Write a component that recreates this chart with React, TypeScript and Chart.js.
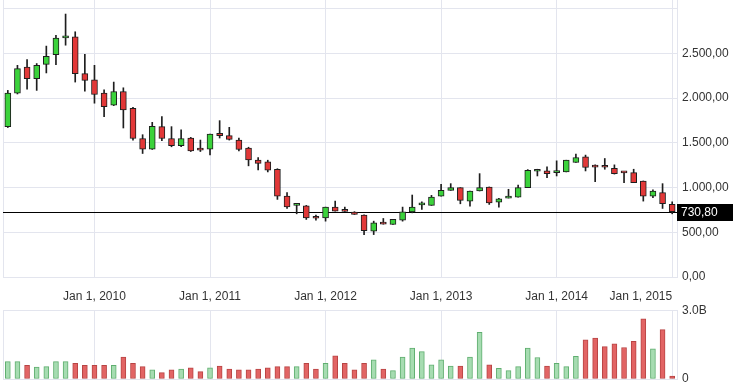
import React, { useEffect, useRef } from 'react';
import { Chart, registerables } from 'chart.js';

Chart.register(...registerables);

// Monthly candles, Apr 2009 .. Jan 2015
const months = [
  '2009-04','2009-05','2009-06','2009-07','2009-08','2009-09','2009-10','2009-11','2009-12',
  '2010-01','2010-02','2010-03','2010-04','2010-05','2010-06','2010-07','2010-08','2010-09','2010-10','2010-11','2010-12',
  '2011-01','2011-02','2011-03','2011-04','2011-05','2011-06','2011-07','2011-08','2011-09','2011-10','2011-11','2011-12',
  '2012-01','2012-02','2012-03','2012-04','2012-05','2012-06','2012-07','2012-08','2012-09','2012-10','2012-11','2012-12',
  '2013-01','2013-02','2013-03','2013-04','2013-05','2013-06','2013-07','2013-08','2013-09','2013-10','2013-11','2013-12',
  '2014-01','2014-02','2014-03','2014-04','2014-05','2014-06','2014-07','2014-08','2014-09','2014-10','2014-11','2014-12',
  '2015-01',
];

const opens = [
  1680, 2054, 2346, 2216, 2376, 2485, 2672, 2683, 2272,
  2204, 2054, 1919, 2073, 1885, 1548, 1429, 1680, 1548, 1466, 1553, 1425,
  1429, 1605, 1579, 1530, 1440, 1305, 1287, 1204, 904, 800, 796, 661,
  661, 781, 738, 725, 691, 511, 593, 587, 635, 728, 805, 800,
  904, 968, 998, 848, 961, 1006, 837, 882, 893, 998, 1182, 1185,
  1166, 1174, 1279, 1343, 1230, 1230, 1215, 1166, 1166, 1073, 904, 942,
  811,
];
const highs = [
  2085, 2365, 2430, 2385, 2580, 2700, 2938, 2740, 2489,
  2365, 2092, 2178, 2114, 1897, 1590, 1728, 1792, 1680, 1643, 1560, 1530,
  1598, 1747, 1672, 1553, 1450, 1335, 1305, 1210, 942, 818, 800, 691,
  781, 848, 781, 730, 695, 624, 654, 643, 781, 916, 840, 912,
  1036, 1043, 998, 961, 1155, 1006, 878, 980, 1028, 1200, 1204, 1230,
  1298, 1305, 1373, 1362, 1253, 1324, 1253, 1175, 1204, 1073, 975, 1043,
  840,
];
const lows = [
  1670, 2045, 2100, 2085, 2280, 2373, 2590, 2178, 2077,
  1942, 1792, 1915, 1665, 1530, 1380, 1425, 1522, 1455, 1455, 1402, 1402,
  1365, 1553, 1530, 1410, 1242, 1197, 1174, 867, 766, 706, 643, 635,
  624, 736, 733, 699, 474, 474, 590, 587, 624, 717, 755, 800,
  904, 968, 818, 792, 961, 811, 781, 882, 893, 998, 1129, 1110,
  1129, 1174, 1279, 1185, 1065, 1204, 1150, 1054, 1054, 848, 885, 766,
  706,
];
const closes = [
  2054, 2328, 2216, 2365, 2466, 2669, 2683, 2272, 2197,
  2039, 1904, 2073, 1867, 1548, 1429, 1683, 1548, 1466, 1548, 1410, 1418,
  1598, 1579, 1537, 1425, 1309, 1268, 1193, 904, 784, 803, 661, 656,
  781, 736, 733, 699, 519, 604, 590, 643, 728, 781, 811, 893,
  968, 998, 856, 961, 998, 829, 874, 885, 998, 1193, 1185, 1155,
  1170, 1305, 1335, 1223, 1228, 1226, 1155, 1164, 1054, 904, 961, 818,
  730.8,
];
// volume in billions
const volumes = [
  0.76, 0.76, 0.60, 0.52, 0.54, 0.76, 0.76, 0.69, 0.60,
  0.60, 0.60, 0.60, 0.96, 0.69, 0.54, 0.40, 0.28, 0.40, 0.43, 0.49, 0.32,
  0.49, 0.57, 0.43, 0.40, 0.40, 0.43, 0.49, 0.54, 0.54, 0.54, 0.69, 0.43,
  0.69, 1.01, 0.69, 0.40, 0.69, 0.84, 0.43, 0.37, 0.96, 1.35, 1.20, 0.62,
  0.84, 0.57, 0.57, 0.96, 2.04, 0.62, 0.47, 0.37, 0.54, 1.35, 0.94, 0.57,
  0.69, 0.54, 0.99, 1.72, 1.79, 1.42, 1.54, 1.38, 1.65, 2.63, 1.32, 2.16,
  0.13,
];

const xTickMonths = ['2010-01', '2011-01', '2012-01', '2013-01', '2014-01', '2015-01'];
const xTickLabels = ['Jan 1, 2010', 'Jan 1, 2011', 'Jan 1, 2012', 'Jan 1, 2013', 'Jan 1, 2014', 'Jan 1, 2015'];

const priceTicks = [0, 500, 1000, 1500, 2000, 2500, 3000];
const priceTickLabels = ['0,00', '500,00', '1.000,00', '1.500,00', '2.000,00', '2.500,00', ''];
const priceMax = 3095;

const volumeTicks = [0, 3e9];
const volumeTickLabels = ['0', '3.0B'];

const lastPrice = 730.8;
const lastPriceLabel = '730,80';

const FONT_FAMILY = "'Liberation Sans', Arial, sans-serif";
const GRID = '#e3e5ee';
const TEXT = '#333';

const isJan = (i: number) => xTickMonths.includes(months[i]);
const janGridColor = (c: any) => (isJan(c.index) ? GRID : 'rgba(0,0,0,0)');

const leftBorderPlugin = {
  id: 'leftBorder',
  beforeDatasetsDraw(chart: any) {
    const { ctx, chartArea } = chart;
    ctx.save();
    ctx.strokeStyle = GRID;
    ctx.lineWidth = 1;
    const x = Math.round(chartArea.left) + 0.5;
    ctx.beginPath();
    ctx.moveTo(x, chartArea.top);
    ctx.lineTo(x, chartArea.bottom);
    ctx.stroke();
    ctx.restore();
  },
};

const lastPricePlugin = {
  id: 'lastPrice',
  beforeDatasetsDraw(chart: any) {
    const { ctx, chartArea, scales } = chart;
    const y = Math.round(scales.y.getPixelForValue(lastPrice)) + 0.5;
    ctx.save();
    ctx.strokeStyle = '#000';
    ctx.lineWidth = 1;
    ctx.beginPath();
    ctx.moveTo(chartArea.left, y);
    ctx.lineTo(chartArea.right, y);
    ctx.stroke();
    ctx.restore();
  },
  afterDraw(chart: any) {
    const { ctx, chartArea, scales } = chart;
    const y = Math.round(scales.y.getPixelForValue(lastPrice));
    ctx.save();
    ctx.fillStyle = '#000';
    ctx.fillRect(chartArea.right, y - 8, 56, 17);
    ctx.fillStyle = '#fff';
    ctx.font = `12px ${FONT_FAMILY}`;
    ctx.textAlign = 'left';
    ctx.textBaseline = 'middle';
    ctx.fillText(lastPriceLabel, chartArea.right + 4, y + 1);
    ctx.restore();
  },
};

const fitRightAxis = (s: any) => {
  s.width = 58;
  s.paddingTop = 0;
  s.paddingBottom = 0;
};

export default function App() {
  const priceRef = useRef<HTMLCanvasElement>(null);
  const volRef = useRef<HTMLCanvasElement>(null);

  useEffect(() => {
    const up = closes.map((c, i) => c >= opens[i]);
    const bodies = opens.map((o, i) => [Math.min(o, closes[i]), Math.max(o, closes[i])]);
    const wicks = lows.map((l, i) => [l, highs[i]]);

    const priceChart = new Chart(priceRef.current!, {
      type: 'bar',
      data: {
        labels: months,
        datasets: [
          {
            data: bodies as any,
            backgroundColor: up.map((u) => (u ? '#3bd23b' : '#e23838')),
            borderColor: '#1e1e1e',
            borderWidth: 1,
            borderSkipped: false,
            barThickness: 6,
            minBarLength: 2,
            grouped: false,
          } as any,
          {
            data: wicks as any,
            backgroundColor: '#1e1e1e',
            borderWidth: 0,
            barThickness: 1,
            grouped: false,
          } as any,
        ],
      },
      options: {
        animation: false,
        responsive: false,
        events: [],
        layout: { padding: { left: 3, top: 0, right: 0, bottom: 13 } },
        plugins: { legend: { display: false }, tooltip: { enabled: false } },
        scales: {
          x: {
            type: 'category',
            offset: true,
            grid: { offset: false, drawTicks: false, color: janGridColor },
            ticks: { display: false, autoSkip: false },
            border: { display: false },
            afterFit: (s: any) => {
              s.height = 0;
              s.paddingLeft = 0;
              s.paddingRight = 0;
            },
          },
          y: {
            position: 'right',
            min: 0,
            max: priceMax,
            afterBuildTicks: (s: any) => {
              s.ticks = priceTicks.map((v) => ({ value: v }));
            },
            ticks: {
              padding: 5,
              color: TEXT,
              font: { family: FONT_FAMILY, size: 12 },
              callback: (_v: any, i: number) => priceTickLabels[i],
            },
            grid: { drawTicks: false, color: GRID },
            border: { display: true, color: GRID },
            afterFit: fitRightAxis,
          },
        },
      } as any,
      plugins: [leftBorderPlugin, lastPricePlugin],
    });

    const volChart = new Chart(volRef.current!, {
      type: 'bar',
      data: {
        labels: months,
        datasets: [
          {
            data: volumes.map((v) => v * 1e9),
            backgroundColor: up.map((u) => (u ? '#a6dcb1' : '#e26464')),
            borderColor: up.map((u) => (u ? '#5fae6f' : '#b84444')),
            borderWidth: 1,
            borderSkipped: false,
            barThickness: 5,
          } as any,
        ],
      },
      options: {
        animation: false,
        responsive: false,
        events: [],
        layout: { padding: { left: 3, top: 0, right: 0, bottom: 13 } },
        plugins: { legend: { display: false }, tooltip: { enabled: false } },
        scales: {
          x: {
            type: 'category',
            position: 'top',
            offset: true,
            grid: { offset: false, drawTicks: false, color: janGridColor },
            ticks: {
              autoSkip: false,
              minRotation: 0,
              maxRotation: 0,
              align: 'inner',
              padding: 7,
              color: TEXT,
              font: { family: FONT_FAMILY, size: 12 },
              callback: (_v: any, i: number) => {
                const k = xTickMonths.indexOf(months[i]);
                return k >= 0 ? xTickLabels[k] : '';
              },
            },
            border: { display: true, color: GRID },
            afterFit: (s: any) => {
              s.height = 30.5;
              s.paddingLeft = 0;
              s.paddingRight = 0;
            },
          },
          y: {
            position: 'right',
            min: 0,
            max: 3e9,
            afterBuildTicks: (s: any) => {
              s.ticks = volumeTicks.map((v) => ({ value: v }));
            },
            ticks: {
              padding: 5,
              color: TEXT,
              font: { family: FONT_FAMILY, size: 12 },
              callback: (_v: any, i: number) => volumeTickLabels[i],
            },
            grid: { drawTicks: false, color: GRID },
            border: { display: true, color: GRID },
            afterFit: fitRightAxis,
          },
        },
      } as any,
      plugins: [leftBorderPlugin],
    });

    return () => {
      priceChart.destroy();
      volChart.destroy();
    };
  }, []);

  return (
    <div style={{ position: 'fixed', left: 0, top: 0, width: 735, height: 392, background: '#fff', overflow: 'hidden' }}>
      <canvas ref={priceRef} width={735} height={290} style={{ position: 'absolute', left: 0, top: 0, width: 735, height: 290 }} />
      <canvas ref={volRef} width={735} height={112} style={{ position: 'absolute', left: 0, top: 280, width: 735, height: 112 }} />
    </div>
  );
}
